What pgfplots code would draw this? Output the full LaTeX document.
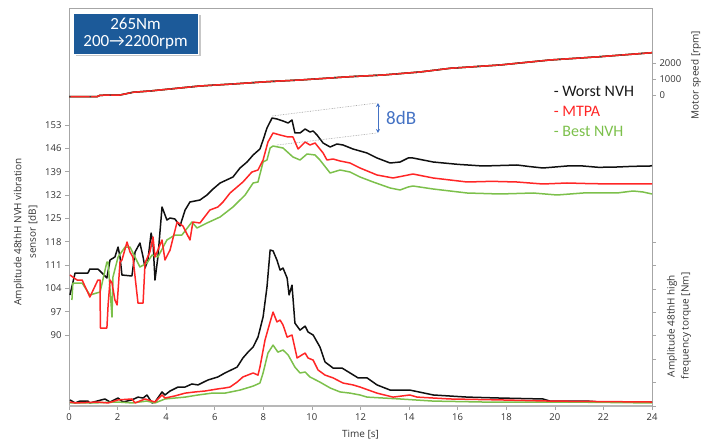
\documentclass[border=0pt]{standalone}
\usepackage{fontspec}
\setmainfont{Open Sans}
\newfontfamily\calfont{Carlito}
\usepackage{pgfplots}
\pgfplotsset{compat=1.18}
\usetikzlibrary{arrows.meta}
\definecolor{cblack}{HTML}{101010}
\definecolor{cred}{HTML}{FF2626}
\definecolor{cgreen}{HTML}{7CC04B}
\definecolor{framec}{HTML}{A6A6A6}
\definecolor{boxblue}{HTML}{1C5A99}
\definecolor{dbblue}{HTML}{4472C4}
\definecolor{labc}{HTML}{333333}

\pgfplotsset{
  base/.style={
    at={(69pt,36pt)}, anchor=south west, scale only axis,
    width=583pt, height=398pt, xmin=0, xmax=24, clip=false,
    tick align=outside, major tick length=4pt,
    tick style={framec, line width=0.6pt},
    /pgf/number format/assume math mode=true,
    /pgf/number format/1000 sep={},
    scaled y ticks=false,
    ticklabel style={font=\fontsize{9.5}{10}\selectfont, text=labc},
  },
  overlay/.style={base, axis line style={draw=none}, xtick=\empty,
    ytick pos=right, yticklabel pos=right},
  curve/.style={line width=1.5pt, line join=round},
}

\begin{document}
\begin{tikzpicture}
\useasboundingbox (0pt,0pt) rectangle (703pt,442pt);

% ---------------- main axis: dB ----------------
\begin{axis}[base,
  ymin=68.7, ymax=188.1,
  axis line style={framec, line width=0.8pt},
  ytick={90,97,...,153}, ytick pos=left,
  xtick={0,2,...,24}, xtick pos=bottom,
  ylabel={Amplitude 48thH NVH vibration\\sensor [dB]},
  ylabel style={align=center, at={(axis description cs:-0.0746,0.437)}, anchor=center,
    font=\fontsize{10}{14.5}\selectfont, text=labc},
  xlabel={Time [s]},
  xlabel style={at={(axis description cs:0.5,-0.073)}, anchor=center,
    font=\fontsize{10}{12}\selectfont, text=labc},
]
\draw[framec!80, line width=1.5pt] (rel axis cs:0,0) -- (rel axis cs:1,0);

% Worst NVH
\addplot[curve, cblack] coordinates {
(0.04,102) (0.25,108.6) (0.78,108.6) (0.86,109.8) (1.19,109.8) (1.36,108.6)
(1.56,107.1) (1.69,112.5) (1.89,113.4) (2.02,116.4) (2.10,113.4) (2.18,108)
(2.59,107.7) (2.72,114.9) (2.92,117.6) (3.05,113.4) (3.13,110.1) (3.25,112.5)
(3.38,120.6) (3.46,117.6) (3.54,106.5) (3.66,113.4) (3.83,128.4) (4.03,124.5)
(4.16,125.1) (4.36,124.8) (4.57,122.7) (4.78,127.5) (4.98,129.9) (5.39,130.5)
(5.68,132) (5.93,133.8) (6.22,135.6) (6.75,137.4) (7.04,140.1) (7.33,141.9)
(7.58,144) (7.86,145.8) (7.99,148.5) (8.15,152.1) (8.36,155.1) (8.56,154.8)
(8.81,154.2) (9.02,153.6) (9.18,154.5) (9.30,150.6) (9.51,150.6) (9.72,151.8)
(9.92,150.9) (10.05,151.2) (10.21,150) (10.46,147.6) (10.75,146.4) (11.03,147.3)
(11.28,147) (11.69,145.8) (12.27,144.6) (12.68,143.1) (13.22,141.6) (13.63,141.9)
(13.96,143.1) (14.16,143.1) (14.99,141.9) (16.0,141.2) (17.04,140.7) (18.0,140.9)
(18.44,141) (19.0,140.5) (19.51,140.1) (20.0,140.4) (20.50,140.7) (21.16,140.7)
(21.8,140.3) (22.56,140.4) (23.2,140.6) (23.92,140.7) (24,140.8)
};
% Best NVH
\addplot[curve, cgreen] coordinates {
(0.12,100.5) (0.16,105.6) (0.54,105.6) (0.86,102) (1.28,102.9) (1.56,111.9)
(1.61,111.9) (1.77,95.4) (1.81,107.4) (2.02,113.4) (2.31,116.4) (2.51,116.4)
(2.92,110.4) (3.21,111.6) (3.42,114) (3.66,113.4) (4.03,118.5) (4.36,120)
(4.65,120) (5.06,123.9) (5.27,122.1) (5.68,123.6) (6.22,125.4) (6.75,128.4)
(7.25,132) (7.58,135.6) (7.78,135.9) (7.99,141.9) (8.15,142.5) (8.28,146.1)
(8.40,146.7) (8.81,146.1) (9.22,143.4) (9.51,142.5) (9.80,144.3) (10.13,144)
(10.33,142.5) (10.75,138.6) (11.16,139.5) (11.57,138.9) (11.98,137.4) (12.52,135.9)
(13.22,134.1) (13.63,133.5) (13.96,134.4) (14.16,134.7) (14.99,133.8) (16.39,132.6)
(17.74,132.3) (19.11,132.6) (20.09,132) (21.16,132.6) (22.56,132.6) (23.22,133.2)
(23.63,132.9) (24,132.3)
};
% MTPA
\addplot[curve, cred] coordinates {
(0.04,108) (0.33,106.5) (0.54,106.5) (0.86,101.4) (1.19,106.5) (1.28,106.5)
(1.29,92.1) (1.56,92.1) (1.61,99) (1.69,106.5) (1.77,105.6) (1.89,100.5)
(1.98,99) (2.10,111.9) (2.18,112.5) (2.39,117.9) (2.51,114.9) (2.63,113.4)
(2.84,99.6) (3.05,99.6) (3.13,111.6) (3.33,114.9) (3.46,119.4) (3.54,113.4)
(3.83,118.5) (3.95,112.5) (4.16,115.5) (4.45,123.9) (4.69,122.7) (4.98,118.5)
(5.10,123.9) (5.39,123.6) (5.80,127.5) (6.13,128.4) (6.34,129.9) (6.63,132.6)
(7.16,135.9) (7.53,138.9) (7.78,139.5) (7.99,142.5) (8.19,147.9) (8.40,150.6)
(8.69,150) (9.02,149.4) (9.22,149.4) (9.43,145.8) (9.72,147.9) (9.92,147)
(10.13,147.6) (10.46,144.6) (10.62,142.5) (10.87,142.8) (11.16,142.2) (11.57,141.6)
(11.98,140.1) (12.68,138) (13.34,137.1) (13.96,138) (14.16,138.3) (14.99,137.1)
(16.39,135.9) (17.4,136.1) (18.44,135.9) (19.51,135.3) (20.50,135.6) (21.5,135.4)
(22.56,135.3) (24,135.3)
};

% 8 dB annotation
\draw[black!40, densely dotted, line width=0.6pt] (axis cs:8.36,155.7) -- (axis cs:12.68,159.6);
\draw[black!40, densely dotted, line width=0.6pt] (axis cs:8.56,147.0) -- (axis cs:12.68,150.6);
\draw[dbblue, line width=0.8pt, {Stealth[length=4pt,width=4pt]}-{Stealth[length=4pt,width=4pt]}]
  (axis cs:12.72,159.6) -- (axis cs:12.72,150.6);
\node[anchor=west, text=dbblue, font=\calfont\fontsize{19}{19}\selectfont, inner sep=0pt]
  at (axis cs:13.05,155.1) {8dB};

% legend
\node[anchor=west, inner sep=0pt, text=black!90, font=\calfont\fontsize{16}{16}\selectfont]
  at (axis cs:19.95,163.2) {- Worst NVH};
\node[anchor=west, inner sep=0pt, text=cred, font=\calfont\fontsize{16}{16}\selectfont]
  at (axis cs:19.95,157.2) {- MTPA};
\node[anchor=west, inner sep=0pt, text=cgreen, font=\calfont\fontsize{16}{16}\selectfont]
  at (axis cs:19.95,151.2) {- Best NVH};
\end{axis}

% ---------------- motor speed axis ----------------
\begin{axis}[overlay,
  ymin=-19437, ymax=5437,
  ytick={0,1000,2000},
]
\addplot[curve, cgreen] coordinates {
(0,-106) (1.15,-106) (1.28,-19) (2.10,0) (2.63,169) (3.33,250) (5.39,563)
(6.75,688) (8.15,831) (9.51,938) (11.57,1144) (12.93,1250) (14.45,1438)
(15.69,1669) (17.74,1875) (19.80,2188) (21.86,2394) (24,2644)
};
\addplot[curve, cblack] coordinates {
(0,-106) (1.15,-106) (1.28,-19) (2.10,0) (2.63,169) (3.33,250) (5.39,563)
(6.75,688) (8.15,831) (9.51,938) (11.57,1144) (12.93,1250) (14.45,1438)
(15.69,1669) (17.74,1875) (19.80,2188) (21.86,2394) (24,2644)
};
\addplot[curve, cred] coordinates {
(0,-106) (1.15,-106) (1.28,-19) (2.10,0) (2.63,169) (3.33,250) (5.39,563)
(6.75,688) (8.15,831) (9.51,938) (11.57,1144) (12.93,1250) (14.45,1438)
(15.69,1669) (17.74,1875) (19.80,2188) (21.86,2394) (24,2644)
};
\addplot[cblack!80, line width=0.9pt, dash pattern=on 1.5pt off 19pt] coordinates {
(0,-106) (1.15,-106) (1.28,-19) (2.10,0) (2.63,169) (3.33,250) (5.39,563)
(6.75,688) (8.15,831) (9.51,938) (11.57,1144) (12.93,1250) (14.45,1438)
(15.69,1669) (17.74,1875) (19.80,2188) (21.86,2394) (24,2644)
};
\end{axis}

% ---------------- torque axis ----------------
\begin{axis}[overlay,
  ymin=0, ymax=16.99,
  ytick={0,...,7}, yticklabels={},
]
\addplot[curve, cblack] coordinates {
(0.04,0.26) (0.25,0.13) (0.45,0.21) (0.78,0.21) (0.86,0.13) (1.48,0.30)
(1.69,0.17) (2.02,0.34) (2.22,0.17) (2.59,0.26) (2.84,0.38) (3.05,0.34)
(3.21,0.47) (3.42,0.13) (3.54,0.17) (3.83,0.60) (3.95,0.47) (4.16,0.64)
(4.49,0.81) (4.78,0.81) (5.06,0.94) (5.31,0.90) (5.72,1.11) (6.13,1.24)
(6.42,1.41) (6.92,1.66) (7.16,2.05) (7.37,2.30) (7.58,2.52) (7.78,2.94)
(7.99,3.80) (8.15,5.08) (8.28,6.66) (8.40,6.62) (8.56,6.23) (8.69,5.80)
(8.81,5.89) (8.98,5.46) (9.06,4.74) (9.18,5.16) (9.30,3.54) (9.51,3.24)
(9.72,3.41) (9.84,3.16) (10.05,3.03) (10.33,2.52) (10.54,1.88) (10.87,1.62)
(11.24,1.62) (11.57,1.41) (11.90,1.20) (12.27,1.20) (12.68,0.90) (13.22,0.68)
(14.03,0.68) (15.0,0.47) (16.4,0.38) (17.74,0.34) (19.51,0.30) (19.80,0.21)
(21.33,0.21) (21.86,0.17) (24,0.17)
};
\addplot[curve, cgreen] coordinates {
(0.04,0.13) (1.0,0.13) (2.0,0.17) (2.6,0.13) (3.2,0.21) (3.54,0.13)
(3.95,0.30) (4.36,0.34) (4.78,0.38) (5.31,0.47) (5.89,0.55) (6.42,0.55)
(7.04,0.68) (7.58,0.85) (7.86,0.98) (7.99,1.41) (8.19,2.26) (8.40,2.60)
(8.60,2.30) (8.81,2.39) (9.02,2.18) (9.30,1.66) (9.51,1.41) (9.72,1.45)
(9.92,1.24) (10.33,1.02) (10.75,0.77) (11.16,0.60) (11.57,0.55) (11.98,0.47)
(12.27,0.38) (13.63,0.30) (14.99,0.21) (17.04,0.17) (20.5,0.17) (24,0.13)
};
\addplot[curve, cred] coordinates {
(0.04,0.17) (0.25,0.13) (1.19,0.17) (1.61,0.13) (2.02,0.26) (2.59,0.30)
(2.72,0.13) (3.13,0.30) (3.54,0.17) (3.83,0.47) (3.95,0.34) (4.36,0.43)
(4.78,0.55) (5.19,0.60) (5.60,0.64) (6.13,0.73) (6.42,0.77) (6.63,0.81)
(6.92,1.02) (7.16,1.24) (7.58,1.41) (7.78,1.32) (7.86,1.66) (8.07,2.82)
(8.28,3.59) (8.40,4.01) (8.56,3.59) (8.69,3.67) (8.81,3.46) (8.98,2.94)
(9.18,3.03) (9.39,2.05) (9.59,2.18) (9.72,2.26) (9.84,2.05) (10.05,1.96)
(10.25,1.54) (10.54,1.32) (10.87,1.20) (11.28,0.98) (11.69,0.90) (11.98,0.81)
(12.68,0.55) (13.34,0.38) (14.03,0.47) (14.33,0.38) (15.69,0.30) (17.74,0.26)
(19.80,0.21) (24,0.17)
};
\end{axis}

% right-hand axis titles
\node[rotate=90, text=labc, font=\fontsize{10}{12}\selectfont] at (696pt,367pt) {Motor speed [rpm]};
\node[rotate=90, text=labc, align=center, font=\fontsize{10}{14}\selectfont] at (679pt,116pt)
  {Amplitude 48thH high\\frequency torque [Nm]};

% title box
\fill[black!22] (75.5pt,385.5pt) rectangle (200.5pt,426.5pt);
\node[fill=boxblue, draw=white, line width=0.8pt, minimum width=125pt, minimum height=41pt,
  inner sep=0pt, text=white, align=center, font=\calfont\fontsize{17}{16.5}\selectfont]
  at (135.5pt,408.5pt) {265Nm\\200→2200rpm};
\end{tikzpicture}
\end{document}
